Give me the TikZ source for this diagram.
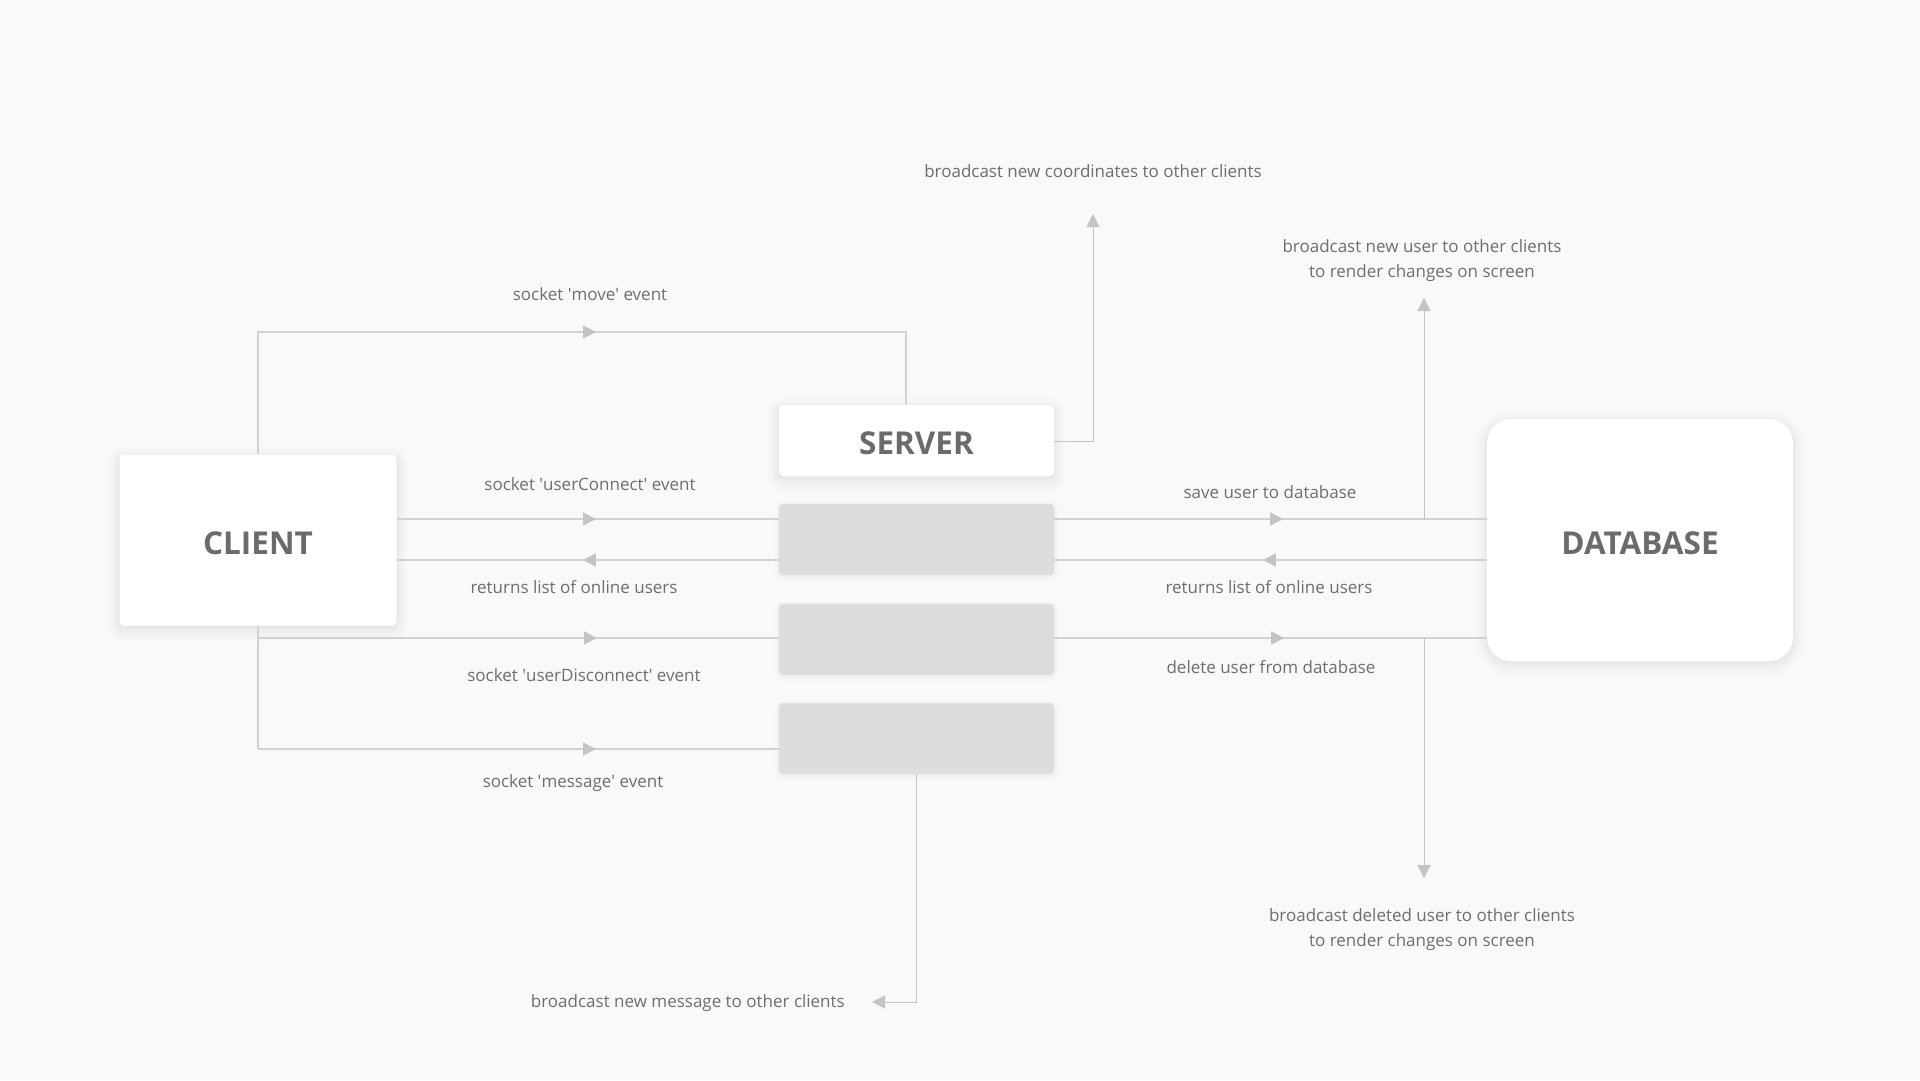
\documentclass[tikz,border=0pt]{standalone}
\usepackage{fontspec}
\setmainfont{Open Sans}
\usetikzlibrary{arrows.meta,decorations.markings}
\definecolor{bgc}{HTML}{F9F9F9}
\definecolor{linec}{HTML}{D2D2D2}
\definecolor{tipc}{HTML}{C4C4C4}
\definecolor{txtc}{HTML}{6E6E6E}
\definecolor{ttlc}{HTML}{6B6B6B}
\definecolor{grayc}{HTML}{DDDDDD}
\newcommand{\sq}{\textquotesingle}
\tikzset{
  conn/.style={draw=linec, line width=1.4pt},
  thin conn/.style={draw=tipc, line width=1pt},
  endtip/.style={-{Triangle[length=13pt,width=13pt,fill=tipc,color=tipc]}},
  tipat/.style={postaction={decorate}, decoration={markings, mark=at position #1 with {\arrow{Triangle[length=13pt,width=13pt,fill=tipc,color=tipc]}}}},
  lbl/.style={text=txtc, font=\fontsize{17}{24.5}\selectfont, align=center, inner sep=0pt},
  softshadow/.style={
    preaction={draw=black, draw opacity=0.012, line width=22pt, transform canvas={yshift=-4pt}},
    preaction={draw=black, draw opacity=0.015, line width=14pt, transform canvas={yshift=-4pt}},
    preaction={draw=black, draw opacity=0.018, line width=8pt, transform canvas={yshift=-3pt}},
    preaction={draw=black, draw opacity=0.02, line width=3pt, transform canvas={yshift=-2pt}}},
  whitebox/.style={fill=white, rounded corners=4pt, inner sep=0pt, softshadow},
  graybox/.style={fill=grayc, rounded corners=4pt, inner sep=0pt, minimum width=275pt, minimum height=71pt,
    preaction={draw=black, draw opacity=0.015, line width=8pt, transform canvas={yshift=-2pt}},
    preaction={draw=black, draw opacity=0.02, line width=3pt, transform canvas={yshift=-1pt}}},
  ttl/.style={text=ttlc, font=\fontsize{31.5}{36}\selectfont\bfseries}
}
\begin{document}
\begin{tikzpicture}[x=1pt,y=-1pt]
\useasboundingbox (0,0) rectangle (1920,1080);
\fill[bgc] (0,0) rectangle (1920,1080);

% nodes
\node[whitebox, minimum width=277pt, minimum height=171pt] (client) at (258,540) {};
\node[ttl] (clientt) at ([yshift=-3pt]client.center) {CLIENT};
\node[whitebox, minimum width=275pt, minimum height=71pt] (server) at (916.5,440.5) {};
\node[ttl] (servert) at ([yshift=-3pt]server.center) {SERVER};
\node[graybox] (g1) at (916.5,539.5) {};
\node[graybox] (g2) at (916.5,639.5) {};
\node[graybox] (g3) at (916.5,738.5) {};
\node[whitebox, rounded corners=24pt, minimum width=306pt, minimum height=242pt] (db) at (1640,540) {};
\node[ttl] (dbt) at ([yshift=-3pt]db.center) {DATABASE};

% coordinates
\coordinate (mv1) at (258,332);
\coordinate (mv2) at (906,332);
\coordinate (uc) at (397,519);
\coordinate (rl) at (397,560);
\coordinate (dc) at (258,638);
\coordinate (ms) at (258,749);
\coordinate (bc1) at (1093,441);
\coordinate (bc2) at (1093,214);
\coordinate (bm1) at (916,1002);
\coordinate (bm2) at (872,1002);
\coordinate (nu1) at (1424,519);
\coordinate (nu2) at (1424,298);
\coordinate (du1) at (1424,638);
\coordinate (du2) at (1424,878);

% client -> server connectors
\draw[conn] (client.north) -- (mv1) -- (mv2) -- (mv2 |- server.north);
\path[tipat=338pt] (mv1) -- (mv2);
\draw[conn, tipat=199pt] (uc) -- (uc -| g1.west);
\draw[conn, tipat=196pt] (rl -| g1.west) -- (rl);
\draw[conn] (client.south) -- (dc);
\draw[conn, tipat=339pt] (dc) -- (dc -| g2.west);
\draw[conn] (dc) -- (ms);
\draw[conn, tipat=338pt] (ms) -- (ms -| g3.west);

% server -> database connectors
\draw[conn, tipat=229pt] (uc -| g1.east) -- (uc -| db.west);
\draw[conn, tipat=224pt] (rl -| db.west) -- (rl -| g1.east);
\draw[conn, tipat=230pt] (dc -| g2.east) -- (dc -| db.west);

% broadcasts
\draw[thin conn, endtip] (bc1 -| server.east) -- (bc1) -- (bc2);
\draw[thin conn, endtip] (g3.south -| bm1) -- (bm1) -- (bm2);
\draw[thin conn, endtip] (nu1) -- (nu2);
\draw[thin conn, endtip] (du1) -- (du2);

% labels
\node[lbl] (l1) at (590,294) {socket \sq move\sq\ event};
\node[lbl] (l2) at (590,484) {socket \sq userConnect\sq\ event};
\node[lbl] (l3) at (574,587) {returns list of online users};
\node[lbl] (l4) at (584,675) {socket \sq userDisconnect\sq\ event};
\node[lbl] (l5) at (573,783) {socket \sq message\sq\ event};
\node[lbl, anchor=east] (l6) at (845,1003) {broadcast new message to other clients};
\node[lbl] (l7) at (1093,171) {broadcast new coordinates to other clients};
\node[lbl] (l8) at (1270,492) {save user to database};
\node[lbl] (l9) at (1269,587) {returns list of online users};
\node[lbl] (l10) at (1271,667) {delete user from database};
\node[lbl] (l11) at (1422,260.5) {broadcast new user to other clients\\to render changes on screen};
\node[lbl] (l12) at (1422,929.5) {broadcast deleted user to other clients\\to render changes on screen};
\end{tikzpicture}
\end{document}
